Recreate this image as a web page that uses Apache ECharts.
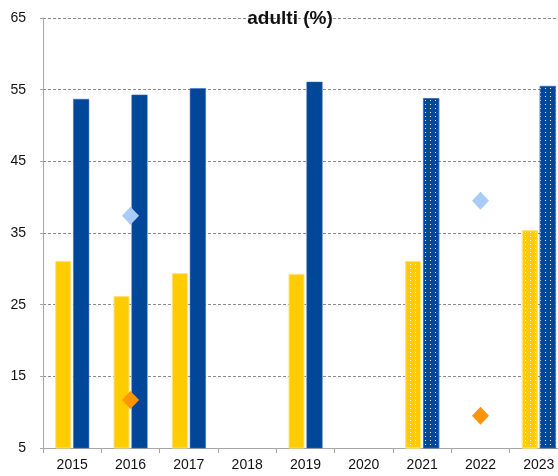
<!DOCTYPE html>
<html><head><meta charset="utf-8">
<script src="https://cdn.jsdelivr.net/npm/echarts@6/dist/echarts.min.js"></script>
<style>html,body{margin:0;padding:0;background:#fff}#c{width:558px;height:476px}</style>
</head><body><div id="c"></div>
<script>
const categories = ['2015','2016','2017','2018','2019','2020','2021','2022','2023'];
const yellowValues = [31.1, 26.2, 29.4, null, 29.3, null, 31.1, null, 35.4];
const blueValues = [53.7, 54.3, 55.2, null, 56.1, null, 53.8, null, 55.5];
const lightBlueDiamonds = [null, 37.4, null, null, null, null, null, 39.5, null];
const orangeDiamonds = [null, 11.7, null, null, null, null, null, 9.5, null];
const dottedYears = ['2021', '2023'];
const yTicks = [5, 15, 25, 35, 45, 55, 65];

const decal = {symbol:'rect', symbolSize:1, color:'rgba(255,255,255,0.9)', dashArrayX:[1,4], dashArrayY:[1,3], rotation:0};
function barData(vals){
  return vals.map((v,i)=> dottedYears.includes(categories[i]) && v!=null ? {value:v, itemStyle:{decal:decal}} : v);
}
const chart = echarts.init(document.getElementById('c'), null, {renderer:'canvas'});
chart.setOption({
  animation:false,
  title:{text:'adulti (%)', left:285, top:4, textAlign:'center',
    textStyle:{fontFamily:'Liberation Sans', fontWeight:'bold', fontSize:19, color:'#111'}},
  grid:{left:43, top:18, width:525, bottom:28, containLabel:false, outerBoundsMode:'none'},
  xAxis:{type:'category', data:categories,
    axisLine:{lineStyle:{color:'#a6a6a6', width:1}},
    axisTick:{show:true, length:5, lineStyle:{color:'#a6a6a6'}},
    axisLabel:{color:'#111', fontSize:14, fontFamily:'Liberation Sans', margin:10}},
  yAxis:{type:'value', min:yTicks[0], max:yTicks[yTicks.length-1], interval:10,
    axisLine:{show:true, lineStyle:{color:'#a6a6a6'}},
    axisTick:{show:true, length:3, lineStyle:{color:'#a6a6a6'}},
    axisLabel:{color:'#111', fontSize:14, fontFamily:'Liberation Sans', margin:17},
    splitLine:{lineStyle:{color:'#8c8c8c', type:[3,2], width:1}}},
  series:[
    {type:'bar', data:barData(yellowValues), barWidth:16, barGap:'12.5%',
      itemStyle:{color:'#FFCC00', borderColor:'#FFE27A', borderWidth:1}},
    {type:'bar', data:barData(blueValues), barWidth:16,
      itemStyle:{color:'#00479A', borderColor:'#3366B0', borderWidth:0.5}},
    {type:'scatter', data:lightBlueDiamonds, symbol:'diamond', symbolSize:[17,18],
      itemStyle:{color:'#A8CBF8', opacity:1}, z:5},
    {type:'scatter', data:orangeDiamonds, symbol:'diamond', symbolSize:[17,18],
      itemStyle:{color:'#FF9500', opacity:1}, z:5}
  ]
});
</script></body></html>
